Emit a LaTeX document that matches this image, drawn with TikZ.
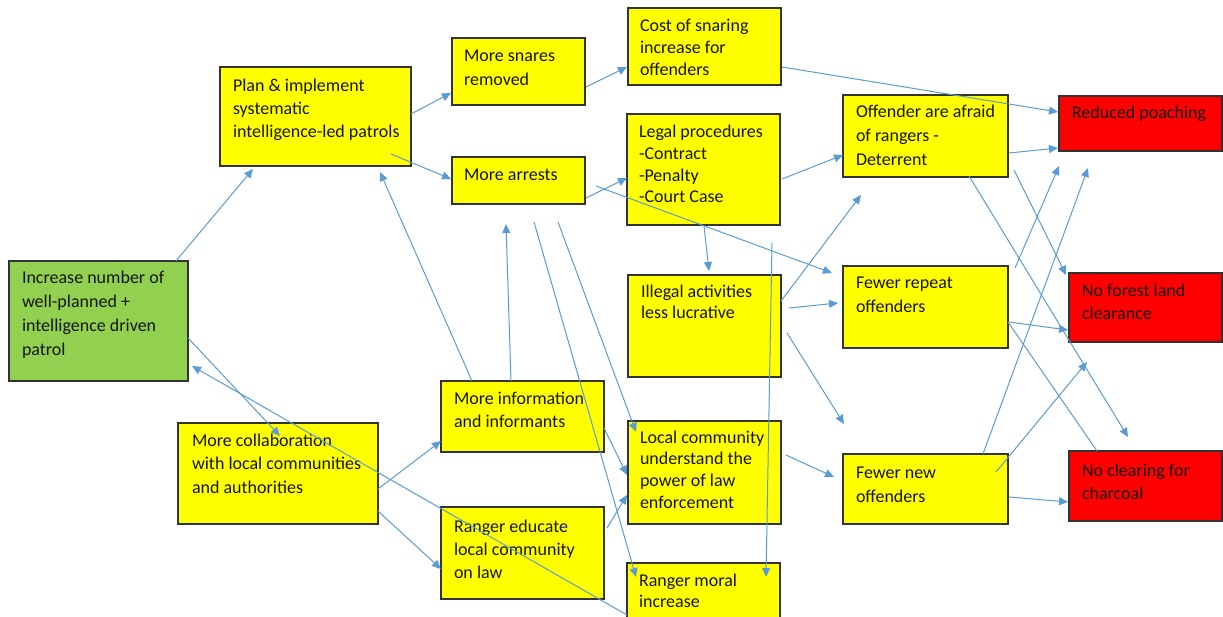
\documentclass[tikz,border=0pt]{standalone}
\usepackage{fontspec}
\setmainfont{Carlito}
\usetikzlibrary{arrows.meta}

\definecolor{arrowblue}{HTML}{5B9BD5}
\definecolor{boxyellow}{HTML}{FFFF00}
\definecolor{boxgreen}{HTML}{92D050}
\definecolor{boxred}{HTML}{FF0000}
\definecolor{boxedge}{HTML}{333333}
\definecolor{inktext}{HTML}{151515}

% text block: #1 = line spacing, #2 = lines
\newcommand{\boxlines}[2]{\parbox[t]{300pt}{\fontsize{18}{#1}\selectfont #2}}

\tikzset{
  box/.style={draw=boxedge, line width=1.2pt, rectangle, anchor=north west,
              inner sep=0pt, outer sep=0pt},
  yel/.style={box, fill=boxyellow},
  grn/.style={box, fill=boxgreen},
  rd/.style={box, fill=boxred},
  lbl/.style={anchor=base west, inner sep=0pt, outer sep=0pt, text=inktext},
  conn/.style={draw=arrowblue, line width=1pt, -{Triangle[length=9pt,width=8pt]}},
  bare/.style={draw=arrowblue, line width=1pt}
}

\begin{document}
\begin{tikzpicture}[x=1pt, y=-1pt]
\useasboundingbox (0,0) rectangle (1223,617);
\fill[white] (0,0) rectangle (1223,617);

% ---- boxes ----
\node[grn, minimum width=179pt, minimum height=120pt] (incr) at (9,261) {};
\node[yel, minimum width=191pt, minimum height=99pt] (plan) at (220,67) {};
\node[yel, minimum width=133pt, minimum height=67pt] (snares) at (452,38) {};
\node[yel, minimum width=153pt, minimum height=77pt] (cost) at (628,8) {};
\node[yel, minimum width=133pt, minimum height=47pt] (arrests) at (452,157) {};
\node[yel, minimum width=153pt, minimum height=111pt] (legal) at (627,114) {};
\node[yel, minimum width=153pt, minimum height=102pt] (illegal) at (628,275) {};
\node[yel, minimum width=165pt, minimum height=82pt] (afraid) at (843,95) {};
\node[rd, minimum width=163pt, minimum height=55pt] (poach) at (1059,96) {};
\node[yel, minimum width=165pt, minimum height=82pt] (repeat) at (843,266) {};
\node[rd, minimum width=153pt, minimum height=69pt] (forest) at (1069,273) {};
\node[yel, minimum width=165pt, minimum height=70pt] (newoff) at (843,454) {};
\node[rd, minimum width=153pt, minimum height=70pt] (charcoal) at (1069,451) {};
\node[yel, minimum width=200pt, minimum height=101pt] (collab) at (178,423) {};
\node[yel, minimum width=163pt, minimum height=71pt] (info) at (441,381) {};
\node[yel, minimum width=163pt, minimum height=92pt] (educate) at (441,507) {};
\node[yel, minimum width=153pt, minimum height=103pt] (local) at (628,421) {};
\node[yel, minimum width=153pt, minimum height=64pt] (moral) at (627,563) {};

% ---- box texts ----
\node[lbl] (incr-t) at ([shift={(13,23)}]incr.north west)
  {\boxlines{23.7}{Increase number of\\well-planned +\\intelligence driven\\patrol}};
\node[lbl] (plan-t) at ([shift={(13,25)}]plan.north west)
  {\boxlines{23}{Plan \& implement\\systematic\\intelligence-led patrols}};
\node[lbl] (snares-t) at ([shift={(12,24)}]snares.north west)
  {\boxlines{23.5}{More snares\\removed}};
\node[lbl] (cost-t) at ([shift={(12,23.7)}]cost.north west)
  {\boxlines{22}{Cost of snaring\\increase for\\offenders}};
\node[lbl] (arrests-t) at ([shift={(12,24)}]arrests.north west)
  {\boxlines{23}{More arrests}};
\node[lbl] (legal-t) at ([shift={(12,23.7)}]legal.north west)
  {\boxlines{21.7}{Legal procedures\\-Contract\\-Penalty\\-Court Case}};
\node[lbl] (illegal-t) at ([shift={(13,23)}]illegal.north west)
  {\boxlines{21}{Illegal activities\\less lucrative}};
\node[lbl] (afraid-t) at ([shift={(13,23)}]afraid.north west)
  {\boxlines{24}{Offender are afraid\\of rangers -\\Deterrent}};
\node[lbl] (poach-t) at ([shift={(13,23)}]poach.north west)
  {\boxlines{23}{Reduced poaching}};
\node[lbl] (repeat-t) at ([shift={(13,23)}]repeat.north west)
  {\boxlines{24}{Fewer repeat\\offenders}};
\node[lbl] (forest-t) at ([shift={(13,24)}]forest.north west)
  {\boxlines{23}{No forest land\\clearance}};
\node[lbl] (newoff-t) at ([shift={(13,24)}]newoff.north west)
  {\boxlines{24}{Fewer new\\offenders}};
\node[lbl] (charcoal-t) at ([shift={(13,25)}]charcoal.north west)
  {\boxlines{23}{No clearing for\\charcoal}};
\node[lbl] (collab-t) at ([shift={(14,23)}]collab.north west)
  {\boxlines{23.5}{More collaboration\\with local communities\\and authorities}};
\node[lbl] (info-t) at ([shift={(13,23)}]info.north west)
  {\boxlines{23.5}{More information\\and informants}};
\node[lbl] (educate-t) at ([shift={(13,25)}]educate.north west)
  {\boxlines{23}{Ranger educate\\local community\\on law}};
\node[lbl] (local-t) at ([shift={(12,22)}]local.north west)
  {\boxlines{21.7}{Local community\\understand the\\power of law\\enforcement}};
\node[lbl] (moral-t) at ([shift={(12,23)}]moral.north west)
  {\boxlines{21.5}{Ranger moral\\increase}};

% ---- connectors ----
\draw[conn] ([shift={(167,0)}]incr.north west) -- ([shift={(33,102)}]plan.north west);
\draw[conn] ([shift={(191,47)}]plan.north west) -- ([shift={(-1,55)}]snares.north west);
\draw[conn] ([shift={(171,87)}]plan.north west) -- ([shift={(-1,22)}]arrests.north west);
\draw[conn] ([shift={(134,49)}]snares.north west) -- ([shift={(-1,59)}]cost.north west);
\draw[conn] ([shift={(154,59)}]cost.north west) -- ([shift={(-1,16)}]poach.north west);
\draw[conn] ([shift={(134,41)}]arrests.north west) -- ([shift={(0,64)}]legal.north west);
\draw[conn] ([shift={(144,29)}]arrests.north west) -- ([shift={(-11,7)}]repeat.north west);
\draw[conn] ([shift={(77,112)}]legal.north west) -- ([shift={(81,-4)}]illegal.north west);
\draw[conn] ([shift={(155,65)}]legal.north west) -- ([shift={(0,60)}]afraid.north west);
\draw[conn] ([shift={(153,26)}]illegal.north west) -- ([shift={(18,100)}]afraid.north west);
\draw[conn] ([shift={(161,33)}]illegal.north west) -- ([shift={(-5,37)}]repeat.north west);
\draw[conn] ([shift={(159,58)}]illegal.north west) -- ([shift={(1,-30)}]newoff.north west);
\draw[conn] ([shift={(158,34)}]local.north west) -- ([shift={(-9,23)}]newoff.north west);
\draw[conn] ([shift={(166,58)}]afraid.north west) -- ([shift={(-1,52)}]poach.north west);
\draw[conn] ([shift={(126,81)}]afraid.north west) -- ([shift={(59,-14)}]charcoal.north west);
\draw[conn] ([shift={(171,75)}]afraid.north west) -- ([shift={(-3,2)}]forest.north west);
\draw[conn] ([shift={(172,2)}]repeat.north west) -- ([shift={(0,70)}]poach.north west);
\draw[conn] ([shift={(140,0)}]newoff.north west) -- ([shift={(29,72)}]poach.north west);
\draw[conn] ([shift={(166,56)}]repeat.north west) -- ([shift={(-1,57)}]forest.north west);
\draw[bare] ([shift={(165,56)}]repeat.north west) -- ([shift={(28,0)}]charcoal.north west);
\draw[conn] ([shift={(153,18)}]newoff.north west) -- ([shift={(18,89)}]forest.north west);
\draw[conn] ([shift={(166,43)}]newoff.north west) -- ([shift={(-1,51)}]charcoal.north west);
\draw[conn] ([shift={(179,77)}]incr.north west) -- ([shift={(102,13)}]collab.north west);
\draw[conn] ([shift={(0,52)}]moral.north west) -- ([shift={(183,105)}]incr.north west);
\draw[conn] ([shift={(200,66)}]collab.north west) -- ([shift={(0,60)}]info.north west);
\draw[conn] ([shift={(200,88)}]collab.north west) -- ([shift={(0,62)}]educate.north west);
\draw[conn] ([shift={(31,0)}]info.north west) -- ([shift={(160,105)}]plan.north west);
\draw[conn] ([shift={(70,0)}]info.north west) -- ([shift={(54,67)}]arrests.north west);
\draw[conn] ([shift={(82,65)}]arrests.north west) -- ([shift={(9,14)}]moral.north west);
\draw[conn] ([shift={(106,65)}]arrests.north west) -- ([shift={(8,11)}]local.north west);
\draw[conn] ([shift={(163,47)}]info.north west) -- ([shift={(-1,54)}]local.north west);
\draw[conn] ([shift={(166,21)}]educate.north west) -- ([shift={(-1,74)}]local.north west);
\draw[conn] ([shift={(145,129)}]legal.north west) -- ([shift={(139,14)}]moral.north west);
\end{tikzpicture}
\end{document}
